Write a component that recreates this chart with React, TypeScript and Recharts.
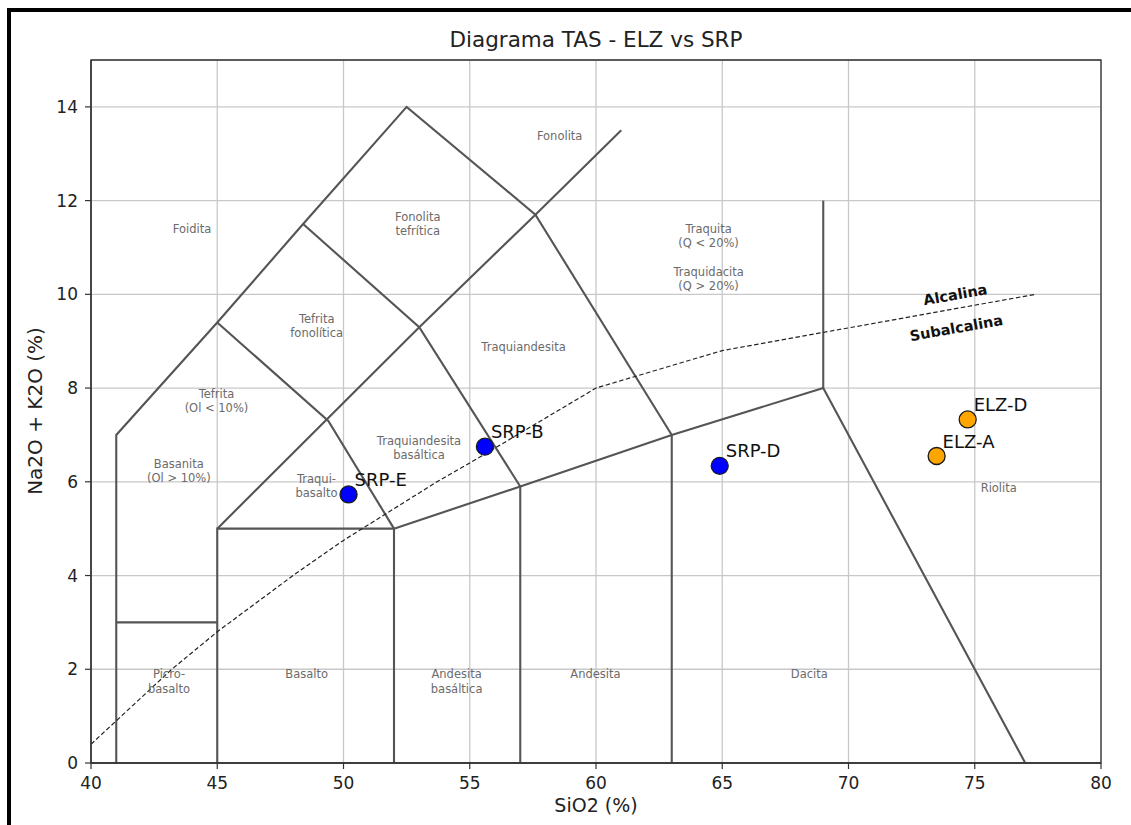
import React from 'react';
import { ComposedChart, Line, Scatter, XAxis, YAxis, CartesianGrid, ReferenceArea } from 'recharts';

const xTicks = [40, 45, 50, 55, 60, 65, 70, 75, 80];
const yTicks = [0, 2, 4, 6, 8, 10, 12, 14];

// TAS field boundaries (SiO2, Na2O+K2O)
const boundaryOuter = [
  { x: 41, y: 0 }, { x: 41, y: 7 }, { x: 45, y: 9.4 }, { x: 48.4, y: 11.5 },
  { x: 52.5, y: 14 }, { x: 57.6, y: 11.7 }, { x: 63, y: 7 }, { x: 63, y: 0 },
];
const boundaryPicro = [{ x: 41, y: 3 }, { x: 45, y: 3 }];
const boundaryBasalt = [{ x: 45, y: 0 }, { x: 45, y: 5 }, { x: 52, y: 5 }, { x: 52, y: 0 }];
const boundaryMiddle = [
  { x: 45, y: 9.4 }, { x: 49.4, y: 7.3 }, { x: 52, y: 5 }, { x: 57, y: 5.9 },
  { x: 63, y: 7 }, { x: 69, y: 8 }, { x: 77, y: 0 },
];
const boundaryAndesite = [{ x: 57, y: 0 }, { x: 57, y: 5.9 }];
const boundaryDiagonal = [{ x: 45, y: 5 }, { x: 53, y: 9.3 }, { x: 57.6, y: 11.7 }, { x: 61, y: 13.5 }];
const boundaryCross = [{ x: 48.4, y: 11.5 }, { x: 53, y: 9.3 }, { x: 57, y: 5.9 }];
const boundaryTrachyte = [{ x: 69, y: 8 }, { x: 69, y: 12 }];

const tasBoundaries = [
  boundaryOuter, boundaryPicro, boundaryBasalt, boundaryMiddle,
  boundaryAndesite, boundaryDiagonal, boundaryCross, boundaryTrachyte,
];

// Irvine & Baragar alkaline / subalkaline divide
const alkalineDivide = [
  { x: 40, y: 0.4 }, { x: 43.2, y: 2 }, { x: 45, y: 2.8 }, { x: 48, y: 4 },
  { x: 50, y: 4.75 }, { x: 53.7, y: 6 }, { x: 55, y: 6.4 }, { x: 60, y: 8 },
  { x: 65, y: 8.8 }, { x: 77.4, y: 10 },
];

const srpSamples = [
  { name: 'SRP-E', x: 50.2, y: 5.73 },
  { name: 'SRP-B', x: 55.6, y: 6.75 },
  { name: 'SRP-D', x: 64.9, y: 6.34 },
];
const elzSamples = [
  { name: 'ELZ-D', x: 74.72, y: 7.33 },
  { name: 'ELZ-A', x: 73.49, y: 6.55 },
];

const fieldLabels = [
  { x: 58.56, y: 13.38, lines: ['Fonolita'] },
  { x: 44.0, y: 11.4, lines: ['Foidita'] },
  { x: 52.94, y: 11.5, lines: ['Fonolita', 'tefrítica'] },
  { x: 64.46, y: 11.24, lines: ['Traquita', '(Q < 20%)'] },
  { x: 64.46, y: 10.33, lines: ['Traquidacita', '(Q > 20%)'] },
  { x: 48.94, y: 9.32, lines: ['Tefrita', 'fonolítica'] },
  { x: 57.13, y: 8.88, lines: ['Traquiandesita'] },
  { x: 44.97, y: 7.72, lines: ['Tefrita', '(Ol < 10%)'] },
  { x: 43.48, y: 6.23, lines: ['Basanita', '(Ol > 10%)'] },
  { x: 52.99, y: 6.72, lines: ['Traquiandesita', 'basáltica'] },
  { x: 48.93, y: 5.91, lines: ['Traqui-', 'basalto'] },
  { x: 43.09, y: 1.74, lines: ['Picro-', 'basalto'] },
  { x: 48.54, y: 1.9, lines: ['Basalto'] },
  { x: 54.48, y: 1.74, lines: ['Andesita', 'basáltica'] },
  { x: 59.98, y: 1.9, lines: ['Andesita'] },
  { x: 68.45, y: 1.9, lines: ['Dacita'] },
  { x: 75.95, y: 5.87, lines: ['Riolita'] },
];

const seriesLabels = [
  { x: 74.23, y: 9.99, text: 'Alcalina' },
  { x: 74.27, y: 9.28, text: 'Subalcalina' },
];

const FONT = "'DejaVu Sans', Verdana, sans-serif";

const FieldLabel = (props: any) => {
  const { cx, cy, payload } = props;
  const lh = 14.5;
  const n = payload.lines.length;
  return (
    <text textAnchor="middle" fontSize={11.5} fill="#6b6b6b" fontFamily={FONT}>
      {payload.lines.map((l: string, i: number) => (
        <tspan key={i} x={cx} y={cy + (i - (n - 1) / 2) * lh} dominantBaseline="central">{l}</tspan>
      ))}
    </text>
  );
};

const SeriesLabel = (props: any) => {
  const { cx, cy, payload } = props;
  return (
    <text x={cx} y={cy} textAnchor="middle" dominantBaseline="central" fontSize={14.5}
      fontWeight="bold" fill="#111" fontFamily={FONT} transform={`rotate(-10, ${cx}, ${cy})`}>
      {payload.text}
    </text>
  );
};

const makeSample = (fill: string) => (props: any) => {
  const { cx, cy, payload } = props;
  return (
    <g>
      <circle cx={cx} cy={cy} r={8.5} fill={fill} stroke="#1a1a1a" strokeWidth={1.3} />
      <text x={cx + 6} y={cy - 15} dominantBaseline="central" fontSize={18} fill="#111" fontFamily={FONT}>
        {payload.name}
      </text>
    </g>
  );
};

export default function App() {
  return (
    <div style={{
      position: 'absolute', left: 7, top: 8, width: 1120, height: 813,
      borderTop: '4px solid #000', borderLeft: '4px solid #000', background: '#fff',
      fontFamily: FONT,
    }}>
      <div style={{ position: 'absolute', left: 285, width: 600, top: 16, lineHeight: '24px',
        textAlign: 'center', fontSize: 21.5, color: '#222' }}>Diagrama TAS - ELZ vs SRP</div>
      <div style={{ position: 'absolute', left: 385, width: 400, top: 781, lineHeight: '24px',
        textAlign: 'center', fontSize: 19, color: '#222' }}>SiO2 (%)</div>
      <div style={{ position: 'absolute', left: 24 - 150, width: 300, top: 399 - 12, lineHeight: '24px',
        textAlign: 'center', fontSize: 20, color: '#222', transform: 'rotate(-90deg)' }}>Na2O + K2O (%)</div>
      <ComposedChart width={1120} height={813} margin={{ top: 48, right: 30, bottom: 22, left: 20 }}>
        <CartesianGrid stroke="#c8c8c8" strokeWidth={1.3} />
        <XAxis type="number" dataKey="x" domain={[40, 80]} ticks={xTicks} allowDataOverflow
          height={40} tickSize={6} tickMargin={8} interval={0}
          axisLine={{ stroke: '#333', strokeWidth: 1.3 }} tickLine={{ stroke: '#333', strokeWidth: 1.2 }}
          tick={{ fontSize: 17, fill: '#222', fontFamily: FONT }} />
        <YAxis type="number" dataKey="y" domain={[0, 15]} ticks={yTicks} allowDataOverflow
          width={60} tickSize={6} tickMargin={7} interval={0}
          axisLine={{ stroke: '#333', strokeWidth: 1.3 }} tickLine={{ stroke: '#333', strokeWidth: 1.2 }}
          tick={{ fontSize: 17, fill: '#222', fontFamily: FONT }} />
        {tasBoundaries.map((seg, i) => (
          <Line key={'b' + i} data={seg} dataKey="y" type="linear" stroke="#555" strokeWidth={2.1}
            dot={false} activeDot={false} isAnimationActive={false} legendType="none" />
        ))}
        <Line data={alkalineDivide} dataKey="y" type="linear" stroke="#222" strokeWidth={1.2}
          strokeDasharray="4.5 2.5" dot={false} activeDot={false} isAnimationActive={false} />
        <Scatter data={fieldLabels} shape={FieldLabel} isAnimationActive={false} />
        <Scatter data={seriesLabels} shape={SeriesLabel} isAnimationActive={false} />
        <Scatter data={srpSamples} shape={makeSample('#0000ff')} isAnimationActive={false} />
        <Scatter data={elzSamples} shape={makeSample('#ffa500')} isAnimationActive={false} />
        <ReferenceArea x1={40} x2={80} y1={0} y2={15} fill="none" stroke="#333" strokeWidth={1.3}
          fillOpacity={0} ifOverflow="visible" />
      </ComposedChart>
    </div>
  );
}
